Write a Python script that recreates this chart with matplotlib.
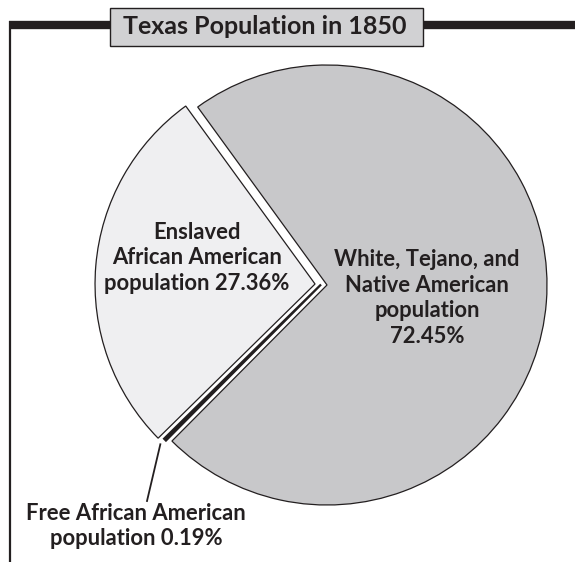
"""Texas population in 1850, pie chart with exploded enslaved-population slice."""
import numpy as np
import matplotlib.pyplot as plt

labels = ["Enslaved\nAfrican American\npopulation 27.36%",
          "Free African American\npopulation 0.19%",
          "White, Tejano, and\nNative American\npopulation\n72.45%"]
shares = [27.36, 0.19, 72.45]
colors = ["#efeff1", "#1a1a1a", "#c8c8ca"]
title = "Texas Population in 1850"

W, H = 575, 562
INK = "#231f20"
FONT = ["Lato", "DejaVu Sans"]


def main() -> None:
    fig = plt.figure(figsize=(W / 100, H / 100), dpi=100)
    ax = fig.add_axes([0, 0, 1, 1])

    center = (327, H - 285)
    radius = 220
    gap = 12  # explode offset of the enslaved slice, in pixels
    wedges, _ = ax.pie(
        shares,
        colors=colors,
        startangle=126,
        explode=[gap, 0, 0],
        center=center,
        radius=radius,
        wedgeprops=dict(edgecolor=INK, linewidth=0.9),
    )
    ax.set_xlim(0, W)
    ax.set_ylim(0, H)
    ax.set_aspect("equal")
    ax.axis("off")

    # the tiny free slice sits in the gap, half way along the enslaved slice's offset
    ens = wedges[0]
    mid = np.deg2rad((ens.theta1 + ens.theta2) / 2)
    free = wedges[1]
    free.set_center((center[0] + 0.5 * gap * np.cos(mid),
                     center[1] + 0.5 * gap * np.sin(mid)))
    free.set_linewidth(1.6)

    # labels
    txt = dict(ha="center", va="center", fontsize=15.8, fontweight="bold",
               color=INK, family=FONT, linespacing=1.28)
    ax.text(197, H - 258, labels[0], **txt)
    ax.text(427, H - 298, labels[2], **txt)
    ax.text(136, H - 526, labels[1], **txt)

    # leader line from the free slice to its label
    fmid = np.deg2rad((free.theta1 + free.theta2) / 2)
    fc = free.center
    start = (fc[0] + radius * 1.03 * np.cos(fmid), fc[1] + radius * 1.03 * np.sin(fmid))
    ax.plot([start[0], 147], [start[1], H - 501], color=INK, lw=1.3)

    # frame: thick top rule and thin left rule
    ax.plot([9, W], [H - 25, H - 25], color=INK, lw=6, solid_capstyle="butt")
    ax.plot([10, 10], [H - 21, 0], color=INK, lw=1.6, solid_capstyle="butt")

    # title box
    ax.add_patch(plt.Rectangle((110, H - 46), 313, 38, facecolor="#d1d1d3",
                               edgecolor=INK, linewidth=1.0, zorder=3))
    ax.text(265, H - 27, title, ha="center", va="center", fontsize=18,
            fontweight="bold", color=INK, family=FONT, zorder=4)

    fig.savefig("out.png", dpi=100)


if __name__ == "__main__":
    main()
